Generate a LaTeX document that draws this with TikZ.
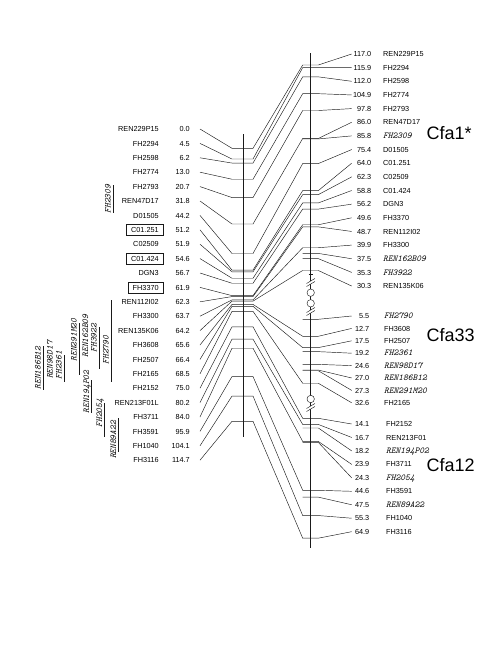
\documentclass[tikz,border=0pt]{standalone}
\usepackage{fontspec}
\setmainfont{Liberation Sans}
\usetikzlibrary{positioning,calc}
\definecolor{mapink}{HTML}{1A1A1A}

\tikzset{
  mapline/.style={draw=mapink,line width=0.45pt},
  chrline/.style={draw=mapink,line width=0.6pt},
  lname/.style={font=\fontsize{7.3}{8}\selectfont,text height=5.2pt,text depth=0pt,inner xsep=4.5pt,inner ysep=2.9pt},
  lmark/.style={},
  lboxed/.style={draw=mapink,line width=0.6pt},
  mpos/.style={font=\fontsize{7.3}{8}\selectfont,text height=5.2pt,text depth=0pt,inner sep=0pt},
  rsans/.style={font=\fontsize{7.3}{8}\selectfont,text height=5.2pt,text depth=0pt,inner sep=0pt},
  rmono/.style={font=\fontsize{9}{10}\selectfont\ttfamily\itshape,text height=5.2pt,text depth=0pt,inner sep=0pt},
  vlab/.style={font=\fontsize{9}{10}\selectfont\ttfamily\itshape,rotate=90,text height=5.2pt,text depth=0pt,inner sep=0pt},
  chrlab/.style={font=\fontsize{18}{20}\selectfont,inner sep=0pt},
  brk/.pic={
    \fill[white] (-4.2,1.5) -- (4.2,-3.5) -- (4.2,-0.5) -- (-4.2,4.5) -- cycle;
    \draw[mapline] (-4.2,1.5) -- (4.2,-3.5);
    \draw[mapline] (-4.2,4.5) -- (4.2,-0.5);
  }
}

\begin{document}
\begin{tikzpicture}[x=1pt,y=-1pt]
  \useasboundingbox (0,0) rectangle (487,648);

  % left map
  \draw[chrline] (243,134) -- (243,437);
  \foreach \nm/\cm/\st [count=\i from 0] in {REN229P15/0.0/lmark, FH2294/4.5/lmark, FH2598/6.2/lmark,
      FH2774/13.0/lmark, FH2793/20.7/lmark, REN47D17/31.8/lmark, D01505/44.2/lmark, C01.251/51.2/lboxed,
      C02509/51.9/lmark, C01.424/54.6/lboxed, DGN3/56.7/lmark, FH3370/61.9/lboxed, REN112I02/62.3/lmark,
      FH3300/63.7/lmark, REN135K06/64.2/lmark, FH3608/65.6/lmark, FH2507/66.4/lmark, FH2165/68.5/lmark,
      FH2152/75.0/lmark, REN213F01L/80.2/lmark, FH3711/84.0/lmark, FH3591/95.9/lmark, FH1040/104.1/lmark,
      FH3116/114.7/lmark}{
    \pgfmathsetmacro{\ly}{129+14.4*\i}
    \pgfmathsetmacro{\ty}{148.3+2.38*\cm}
    \node[lname,\st,anchor=east] (ln\i) at (163.5,\ly) {\nm};
    \node[mpos,anchor=east] (lp\i) at (190,\ly) {\cm};
    \coordinate (la\i) at (200,\ly);
    \coordinate (lt\i) at (232,\ty);
    \coordinate (lu\i) at (253,\ty);
    \draw[mapline] (la\i) -- (lt\i) -- (lu\i);
  }

  % intervals beside the left map
  \foreach \nm/\x/\y in {FH2309/108/199, REN186B12/38/368, REN98D17/50/360, FH2361/59/365,
      REN291M20/74/340, REN162B09/85.5/336, FH3922/94/338, FH2790/106/350,
      REN194P02/86.5/392, FH2054/99.5/413, REN89A22/113.5/440}
    \node[vlab] (v\nm) at (\x,\y) {\nm};
  \foreach \x/\ya/\yb in {113.5/185/213, 43/346/390, 64.5/355/382, 79/323/375, 99/327/369,
      111/300/382, 91.5/380/413, 104.5/403/437, 118.5/418/452}
    \draw[mapline] (\x,\ya) -- (\x,\yb);

  % right map
  \draw[chrline] (310.7,53.3) -- (310.7,548);
  \draw[mapline] (308.5,274.5) -- (313,274.5);
  \pic at (310.7,282) {brk};
  \draw[mapline,fill=white] (310.7,292.7) circle (3.7);
  \draw[mapline,fill=white] (310.7,303.3) circle (3.7);
  \pic at (310.7,311) {brk};
  \draw[mapline,fill=white] (310.7,399) circle (3.7);
  \pic at (310.7,407) {brk};

  % Cfa1
  \foreach \cm/\nm/\st [count=\i from 0] in {117.0/REN229P15/rsans, 115.9/FH2294/rsans, 112.0/FH2598/rsans,
      104.9/FH2774/rsans, 97.8/FH2793/rsans, 86.0/REN47D17/rsans, 85.8/FH2309/rmono, 75.4/D01505/rsans,
      64.0/C01.251/rsans, 62.3/C02509/rsans, 58.8/C01.424/rsans, 56.2/DGN3/rsans, 49.6/FH3370/rsans,
      48.7/REN112I02/rsans, 39.9/FH3300/rsans, 37.5/REN162B09/rmono, 35.3/FH3922/rmono, 30.3/REN135K06/rsans}{
    \pgfmathsetmacro{\ly}{54+13.65*\i}
    \pgfmathsetmacro{\ty}{65+2.37*(117-\cm)}
    \coordinate (ra\i) at (302.7,\ty);
    \coordinate (rae\i) at (318.3,\ty);
    \coordinate (ral\i) at (351.7,\ly);
    \node[mpos,anchor=east] (rap\i) at (371.5,\ly) {\cm};
    \node[\st,anchor=west] (ran\i) at (383,\ly) {\nm};
    \draw[mapline] (ra\i) -- (rae\i) -- (ral\i);
  }
  % Cfa33
  \foreach \cm/\nm/\st [count=\i from 0] in {5.5/FH2790/rmono, 12.7/FH3608/rsans, 17.5/FH2507/rsans,
      19.2/FH2361/rmono, 24.6/REN98D17/rmono, 27.0/REN186B12/rmono, 27.3/REN291M20/rmono, 32.6/FH2165/rsans}{
    \pgfmathsetmacro{\ly}{316+12.4*\i}
    \pgfmathsetmacro{\ty}{319.3+2.36*(\cm-5.5)}
    \coordinate (rb\i) at (302.7,\ty);
    \coordinate (rbe\i) at (318.3,\ty);
    \coordinate (rbl\i) at (351.7,\ly);
    \node[mpos,anchor=east] (rbp\i) at (369.5,\ly) {\cm};
    \node[\st,anchor=west] (rbn\i) at (384,\ly) {\nm};
    \draw[mapline] (rb\i) -- (rbe\i) -- (rbl\i);
  }
  % Cfa12
  \foreach \cm/\nm/\st [count=\i from 0] in {14.1/FH2152/rsans, 16.7/REN213F01/rsans, 18.2/REN194P02/rmono,
      23.9/FH3711/rsans, 24.3/FH2054/rmono, 44.6/FH3591/rsans, 47.5/REN89A22/rmono, 55.3/FH1040/rsans,
      64.9/FH3116/rsans}{
    \pgfmathsetmacro{\ly}{424+13.46*\i}
    \pgfmathsetmacro{\ty}{418.3+2.36*(\cm-14.1)}
    \coordinate (rc\i) at (302.7,\ty);
    \coordinate (rce\i) at (318.3,\ty);
    \coordinate (rcl\i) at (351.7,\ly);
    \node[mpos,anchor=east] (rcp\i) at (369.5,\ly) {\cm};
    \node[\st,anchor=west] (rcn\i) at (386,\ly) {\nm};
    \draw[mapline] (rc\i) -- (rce\i) -- (rcl\i);
  }

  % left to right
  \foreach \l/\r in {0/ra0, 1/ra1, 2/ra2, 3/ra3, 4/ra4, 5/ra5, 6/ra7, 7/ra8, 8/ra9, 9/ra10,
      10/ra11, 11/ra12, 12/ra13, 13/ra14, 14/ra17, 15/rb1, 16/rb2, 17/rb7,
      18/rc0, 19/rc1, 20/rc3, 21/rc5, 22/rc7, 23/rc8}
    \draw[mapline] (lu\l) -- (\r);

  \node[chrlab,anchor=base west] (cfaone) at (426.5,139.5) {Cfa1*};
  \node[chrlab,anchor=base west] (cfathree) at (426.5,341.5) {Cfa33};
  \node[chrlab,anchor=base west] (cfatwelve) at (426.5,471.5) {Cfa12};
\end{tikzpicture}
\end{document}
